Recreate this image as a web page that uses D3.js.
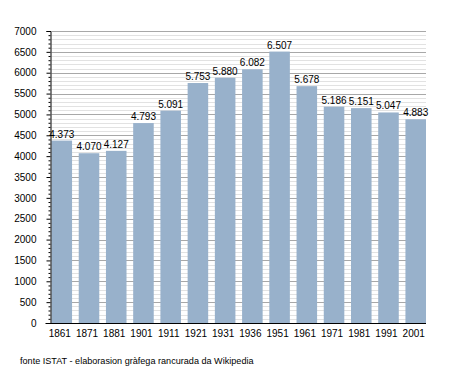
<!DOCTYPE html>
<html>
<head>
<meta charset="utf-8">
<script src="https://cdn.jsdelivr.net/npm/d3@7"></script>
<style>
  body { margin: 0; background: #fff; }
  svg { font-family: "Liberation Sans", Arial, sans-serif; }
  .minor { stroke: #e2e2e2; stroke-width: 1; }
  .major { stroke: #a8a8a8; stroke-width: 1; }
  .bar { fill: #98b1cb; }
</style>
</head>
<body>
<svg width="455" height="373"></svg>
<script>
const years = ['1861', '1871', '1881', '1901', '1911', '1921', '1931', '1936', '1951', '1961', '1971', '1981', '1991', '2001'];
const population = [4373, 4070, 4127, 4793, 5091, 5753, 5880, 6082, 6507, 5678, 5186, 5151, 5047, 4883];
const yTicks = [0, 500, 1000, 1500, 2000, 2500, 3000, 3500, 4000, 4500, 5000, 5500, 6000, 6500, 7000];
const caption = 'fonte ISTAT - elaborasion gràfega rancurada da Wikipedia';

const svg = d3.select('svg');

const plotLeft = 50.5;
const plotRight = 426;
const plotTop = 31;
const plotBottom = 323;

const xScale = d3.scaleBand()
  .domain(years)
  .range([plotLeft + 1, plotRight])
  .paddingInner(0.245)
  .paddingOuter(0);

const yScale = d3.scaleLinear()
  .domain([0, 7000])
  .range([plotBottom, plotTop]);

// grid lines, minor every 100 and major every 500
const minorTicks = d3.range(100, 7001, 100).filter((v) => v % 500 !== 0);

svg.append('g')
  .selectAll('line')
  .data(minorTicks)
  .enter()
  .append('line')
  .attr('class', 'minor')
  .attr('x1', plotLeft + 1)
  .attr('x2', plotRight)
  .attr('y1', (d) => Math.round(yScale(d)) + 0.5)
  .attr('y2', (d) => Math.round(yScale(d)) + 0.5);

svg.append('g')
  .selectAll('line')
  .data(yTicks.filter((v) => v > 0))
  .enter()
  .append('line')
  .attr('class', 'major')
  .attr('x1', plotLeft + 1)
  .attr('x2', plotRight)
  .attr('y1', (d) => Math.round(yScale(d)) + 0.5)
  .attr('y2', (d) => Math.round(yScale(d)) + 0.5);

// bars
svg.append('g')
  .selectAll('rect')
  .data(population)
  .enter()
  .append('rect')
  .attr('class', 'bar')
  .attr('x', (d, i) => xScale(years[i]))
  .attr('y', (d) => yScale(d))
  .attr('width', xScale.bandwidth())
  .attr('height', (d) => plotBottom - yScale(d));

// value labels
const fmt = (v) => d3.format(',')(v).replace(',', '.');

svg.append('g')
  .selectAll('text')
  .data(population)
  .enter()
  .append('text')
  .attr('x', (d, i) => xScale(years[i]) + xScale.bandwidth() / 2)
  .attr('y', (d) => yScale(d) - 3)
  .attr('text-anchor', 'middle')
  .attr('font-size', 10)
  .attr('fill', '#000')
  .text((d) => fmt(d));

// y axis with minor ticks
const yAxis = svg.append('g')
  .attr('transform', `translate(${plotLeft},0)`)
  .call(d3.axisLeft(yScale)
    .tickValues(yTicks)
    .tickSize(4)
    .tickPadding(10)
    .tickFormat(d3.format('d')));

yAxis.select('.domain').attr('stroke', '#000');
yAxis.selectAll('text').attr('font-size', 10).attr('fill', '#000');

svg.append('g')
  .attr('transform', `translate(${plotLeft},0)`)
  .call(d3.axisLeft(yScale)
    .tickValues(minorTicks)
    .tickSize(2)
    .tickFormat(''))
  .call((g) => g.select('.domain').remove());

// x axis
const xAxis = svg.append('g')
  .attr('transform', `translate(0,${plotBottom + 0.5})`)
  .call(d3.axisBottom(xScale)
    .tickSize(0)
    .tickPadding(6)
    .tickSizeOuter(0));

xAxis.select('.domain')
  .attr('d', `M${plotLeft - 5},0H${plotRight}`)
  .attr('stroke', '#000');
xAxis.selectAll('text')
  .attr('font-size', 10)
  .attr('fill', '#000')
  .attr('dx', -2);

svg.append('text')
  .attr('x', 20)
  .attr('y', 364)
  .attr('font-size', 9.1)
  .attr('fill', '#000')
  .text(caption);
</script>
</body>
</html>
